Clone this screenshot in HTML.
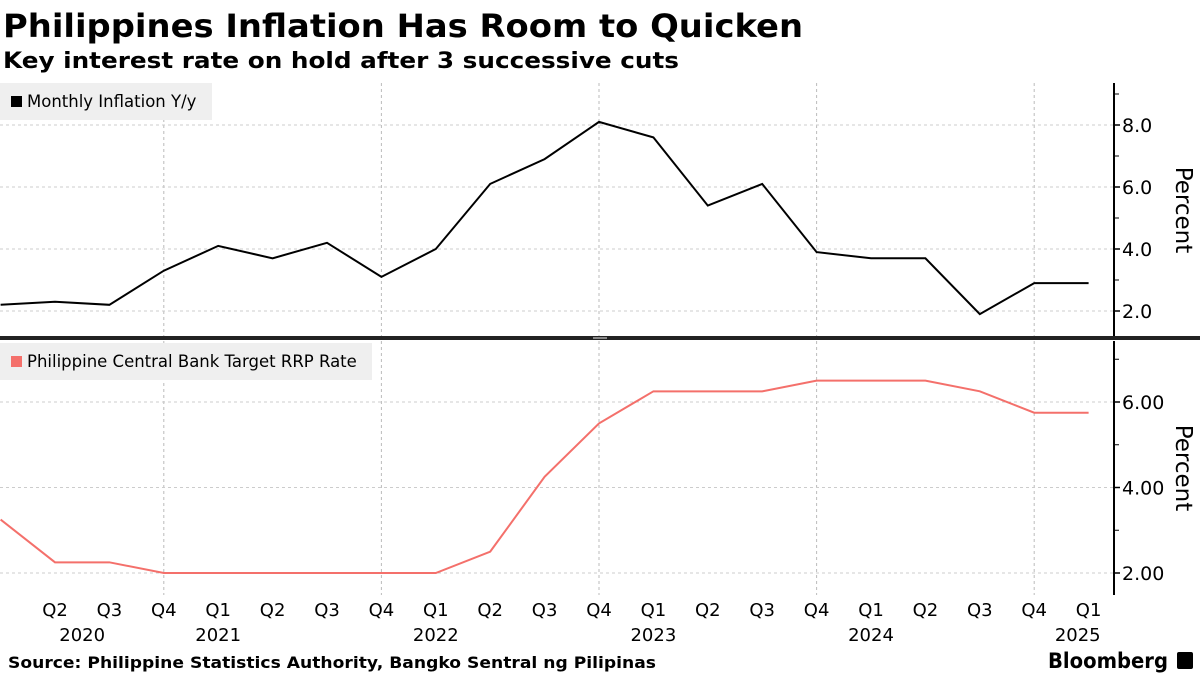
<!DOCTYPE html>
<html><head><meta charset="utf-8"><style>
body{margin:0;background:#fff;width:1200px;height:675px;overflow:hidden}
svg{display:block;font-family:"DejaVu Sans","Liberation Sans",sans-serif}
</style></head><body>
<svg id="c" width="1200" height="675" viewBox="0 0 1200 675">
<text x="3" y="37" font-family="DejaVu Sans, sans-serif" font-weight="bold" font-size="32" textLength="800" lengthAdjust="spacingAndGlyphs">Philippines Inflation Has Room to Quicken</text>
<text x="3" y="68" font-family="DejaVu Sans, sans-serif" font-weight="bold" font-size="22" textLength="676" lengthAdjust="spacingAndGlyphs">Key interest rate on hold after 3 successive cuts</text>
<g id="g"></g>
<text x="8" y="668" font-family="DejaVu Sans, sans-serif" font-weight="bold" font-size="16" textLength="648" lengthAdjust="spacingAndGlyphs">Source: Philippine Statistics Authority, Bangko Sentral ng Pilipinas</text>
<text x="1048" y="668" font-family="DejaVu Sans, sans-serif" font-weight="bold" font-size="21" textLength="120" lengthAdjust="spacingAndGlyphs">Bloomberg</text>
<rect x="1177" y="652" width="16" height="17" rx="2" fill="#000"/>
</svg>
<script>
const quarters=["Q1","Q2","Q3","Q4","Q1","Q2","Q3","Q4","Q1","Q2","Q3","Q4","Q1","Q2","Q3","Q4","Q1","Q2","Q3","Q4","Q1"];
const years=["2020","2021","2022","2023","2024","2025"];
const inflation=[2.2,2.3,2.2,3.3,4.1,3.7,4.2,3.1,4.0,6.1,6.9,8.1,7.6,5.4,6.1,3.9,3.7,3.7,1.9,2.9,2.9];
const rrpRate=[3.25,2.25,2.25,2.0,2.0,2.0,2.0,2.0,2.0,2.5,4.25,5.5,6.25,6.25,6.25,6.5,6.5,6.5,6.25,5.75,5.75];
const topTicks=[2,4,6,8];
const botTicks=[2,4,6];
const NS="http://www.w3.org/2000/svg";
const g=document.getElementById('g');
function el(t,a,p){const e=document.createElementNS(NS,t);for(const k in a)e.setAttribute(k,a[k]);(p||g).appendChild(e);return e;}
const X0=0.6,DX=54.4;
const x=i=>X0+i*DX;
const yTop=v=>311-(v-2)*31;
const yBot=v=>573-(v-2)*42.75;
const AX=1114;
quarters.forEach((q,i)=>{if(q==="Q4"){
 let l=el('line',{x1:x(i),x2:x(i),y1:83,y2:595,stroke:'#bbb','stroke-dasharray':'3,3'});
 
 
}});
function panel(ticks,fy,top,bot,fmt,minors,name){
 ticks.forEach(v=>{
  let l=el('line',{x1:0,x2:AX,y1:fy(v),y2:fy(v),stroke:'#ccc','stroke-dasharray':'3,3'});
  
  
  el('line',{x1:AX,x2:AX+6,y1:fy(v),y2:fy(v),stroke:'#000','stroke-width':1.5});
  let t=el('text',{x:AX+8,y:fy(v)+7,'font-size':19});
  t.textContent=fmt(v);
  
  
 });
 minors.forEach(v=>{el('line',{x1:AX,x2:AX+5,y1:fy(v),y2:fy(v),stroke:'#000'});});
 let a=el('line',{x1:AX,x2:AX,y1:top,y2:bot,stroke:'#000','stroke-width':2});
 
 
 let cy=(top+bot)/2;
 let t=el('text',{x:1176,y:cy,'font-size':23,'text-anchor':'middle',transform:`rotate(90 1176 ${cy})`});
 t.textContent='Percent';
 
 
}
panel(topTicks,yTop,83,337,v=>v.toFixed(1),[3,5,7,9],'inflation');
panel(botTicks,yBot,341,595,v=>v.toFixed(2),[3,5,7],'rrp');
let p1=el('polyline',{points:inflation.map((v,i)=>x(i)+','+yTop(v)).join(' '),fill:'none',stroke:'#000','stroke-width':2});


let p2=el('polyline',{points:rrpRate.map((v,i)=>x(i)+','+yBot(v)).join(' '),fill:'none',stroke:'#f4706b','stroke-width':2});


let d=el('rect',{x:0,y:336,width:1200,height:4,fill:'#222'});


el('rect',{x:593,y:337,width:14,height:2,fill:'#888'});
function legend(y,w,color,label,name){
 let b=el('rect',{x:0,y:y,width:w,height:37,fill:'#efefef'});
 
 
 el('rect',{x:11,y:y+13,width:11,height:11,fill:color});
 let t=el('text',{x:27,y:y+24,'font-size':16.5});
 t.textContent=label;
 
 
}
legend(83,212,'#000','Monthly Inflation Y/y','inflation-legend');
legend(343,372,'#f4706b','Philippine Central Bank Target RRP Rate','rrp-legend');
quarters.forEach((q,i)=>{if(i===0)return;
 let t=el('text',{x:x(i),y:616,'font-size':18,'text-anchor':'middle'});
 t.textContent=q;
 
 
});
const yearIdx=[1.5,4,8,12,16,19.8];
years.forEach((yv,j)=>{
 let t=el('text',{x:x(yearIdx[j]),y:641,'font-size':18,'text-anchor':'middle'});
 t.textContent=yv;
 
 
});
</script>
</body></html>
